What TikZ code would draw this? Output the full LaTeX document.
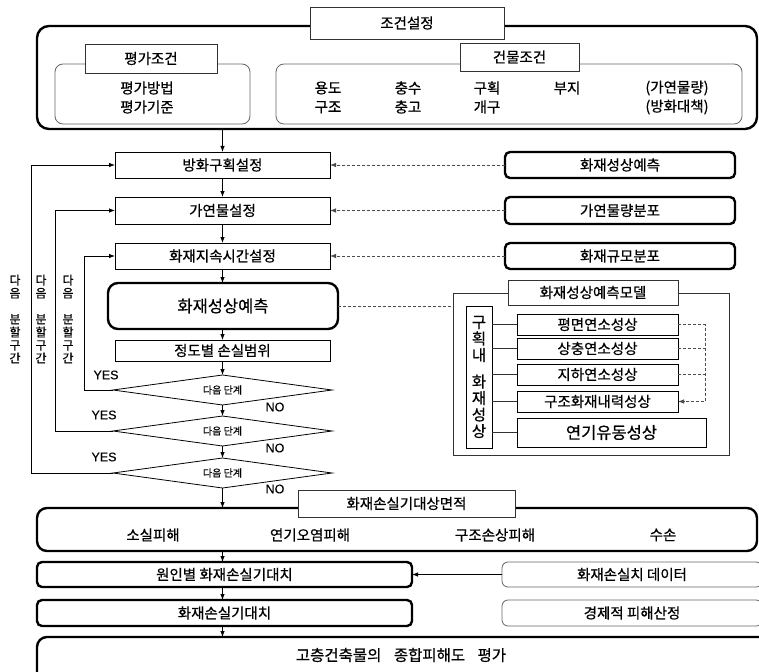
\documentclass[tikz,border=0pt]{standalone}
\usepackage{fontspec}
\setmainfont{Noto Sans CJK KR}[FakeBold=0.6]
\newfontfamily\latinfont{Liberation Sans}[FakeBold=0.3]
\usetikzlibrary{shapes.geometric,arrows.meta,shadows}

\begin{document}
\begin{tikzpicture}[x=1pt,y=-1pt,
  every node/.style={inner sep=0pt, outer sep=0pt, font=\fontsize{14.5}{16}\selectfont},
  plain/.style={draw=black, line width=0.9pt, fill=white, anchor=north west},
  heavy/.style={draw=black, line width=2.4pt, rounded corners=6pt, fill=white, anchor=north west},
  thinround/.style={draw=black!60, line width=0.8pt, rounded corners=8pt, fill=white, anchor=north west},
  tag/.style={draw=black!80, line width=0.8pt, fill=white, anchor=north west,
    drop shadow={shadow xshift=1.3pt, shadow yshift=-1.3pt, fill=black!35, opacity=1}},
  arr/.style={line width=0.8pt, -{Latex[length=6pt,width=4.5pt]}},
  darr/.style={line width=0.8pt, dash pattern=on 3pt off 2pt, draw=black!70, -{Latex[length=6pt,width=4.5pt]}},
  dline/.style={line width=0.8pt, dash pattern=on 3pt off 2pt, draw=black!70},
  dec/.style={draw=black, line width=0.8pt, shape=diamond, shape aspect=7, minimum width=219pt, minimum height=30pt, font=\fontsize{10}{12}\selectfont},
  yn/.style={font=\latinfont\fontsize{12.5}{14}\selectfont},
  vlab/.style={align=center, font=\fontsize{12}{13}\selectfont},
  two/.style={align=center, font=\fontsize{14.5}{19}\selectfont},
]
\useasboundingbox (0,0) rectangle (759,671);
\clip (0,0) rectangle (759,671);

% ---------- top condition block ----------
\node[heavy, rounded corners=12pt, minimum width=720pt, minimum height=103pt] (cond) at (37,26) {};
\node[thinround, minimum width=195pt, minimum height=60pt] (evalbox) at (55,64) {};
\node[thinround, minimum width=466pt, minimum height=60pt] (bldbox) at (276,64) {};
\node[tag, minimum width=194pt, minimum height=32pt] (condtag) at (310,7) {조건설정};
\node[tag, minimum width=132pt, minimum height=29pt] (evaltag) at (85,44) {평가조건};
\node[tag, minimum width=119pt, minimum height=28pt] (bldtag) at (460,43) {건물조건};
\node[two] (e1) at (147,97.5) {평가방법\\평가기준};
\node[two] (b1) at (328,97.5) {용도\\구조};
\node[two] (b2) at (408,97.5) {충수\\충고};
\node[two] (b3) at (487,97.5) {구획\\개구};
\node (b4) at (567,88) {부지};
\node[two] (b5) at (677,97.5) {(가연물량)\\(방화대책)};

% ---------- main flow ----------
\node[plain, minimum width=215pt, minimum height=26pt] (n1) at (115,152) {방화구획설정};
\node[plain, minimum width=215pt, minimum height=27pt] (n2) at (115,197) {가연물설정};
\node[plain, minimum width=215pt, minimum height=26pt] (n3) at (115,243) {화재지속시간설정};
\node[heavy, rounded corners=10pt, minimum width=230pt, minimum height=46pt, font=\fontsize{16.5}{18}\selectfont] (pred) at (108,283) {화재성상예측};
\node[plain, minimum width=215pt, minimum height=21pt] (loss) at (115,340) {정도별 손실범위};
\node[dec] (d1) at (222.5,390) {다음 단계};
\node[dec] (d2) at (222.5,431) {다음 단계};
\node[dec] (d3) at (222.5,473) {다음 단계};

\node[yn] (y1) at (106,375) {YES};
\node[yn] (no1) at (275,407) {NO};
\node[yn] (y2) at (104,415) {YES};
\node[yn] (no2) at (275,448) {NO};
\node[yn] (y3) at (104,457) {YES};
\node[yn] (no3) at (275,489) {NO};

\node[vlab] (v1) at (15,319) {다\\음\\[13pt]분\\할\\구\\간};
\node[vlab] (v2) at (41,319) {다\\음\\[13pt]분\\할\\구\\간};
\node[vlab] (v3) at (68,319) {다\\음\\[13pt]분\\할\\구\\간};

% ---------- right inputs ----------
\node[heavy, rounded corners=5pt, minimum width=230pt, minimum height=26pt] (r1) at (505,152) {화재성상예측};
\node[heavy, rounded corners=5pt, minimum width=230pt, minimum height=27pt] (r2) at (505,197) {가연물량분포};
\node[heavy, rounded corners=5pt, minimum width=230pt, minimum height=26pt] (r3) at (505,243) {화재규모분포};

% ---------- model ----------
\node[tag, minimum width=276pt, minimum height=162pt] (model) at (453,293) {};
\node[tag, minimum width=170pt, minimum height=25pt] (mtitle) at (508,280) {화재성상예측모델};
\node[plain, line width=0.8pt, minimum width=26pt, minimum height=142pt] (vb) at (466,306) {};
\node[align=center, font=\fontsize{15.5}{16.5}\selectfont] (vbt) at (479,377) {구\\획\\내\\[10pt]화\\재\\성\\상};
\node[plain, minimum width=161pt, minimum height=21pt] (m1) at (517,314) {평면연소성상};
\node[plain, minimum width=161pt, minimum height=21pt] (m2) at (517,338) {상충연소성상};
\node[plain, minimum width=161pt, minimum height=21pt] (m3) at (517,364) {지하연소성상};
\node[plain, minimum width=161pt, minimum height=21pt] (m4) at (517,391) {구조화재내력성상};
\node[plain, minimum width=189pt, minimum height=29pt, font=\fontsize{16.5}{18}\selectfont] (m5) at (517,418) {연기유동성상};

% ---------- bottom ----------
\node[heavy, rounded corners=10pt, minimum width=720pt, minimum height=43pt] (big) at (37,508) {};
\node[tag, minimum width=217pt, minimum height=27pt] (areatag) at (298,490) {화재손실기대상면적};
\node (s1) at (153,535) {소실피해};
\node (s2) at (310,535) {연기오염피해};
\node (s3) at (495,535) {구조손상피해};
\node (s4) at (663,535) {수손};
\node[heavy, rounded corners=5pt, minimum width=375pt, minimum height=25pt] (cause) at (37,562) {원인별 화재손실기대치};
\node[heavy, rounded corners=5pt, minimum width=375pt, minimum height=26pt] (expv) at (37,600) {화재손실기대치};
\node[thinround, rounded corners=6pt, minimum width=260pt, minimum height=25pt] (data) at (502,562) {화재손실치 데이터};
\node[thinround, rounded corners=6pt, minimum width=260pt, minimum height=26pt] (econ) at (502,600) {경제적 피해산정};
\node[heavy, rounded corners=10pt, minimum width=760pt, minimum height=60pt] (final) at (37,637) {};
\node[font=\fontsize{15.5}{17}\selectfont] (ft) at (401,655) {고층건축물의\hspace{0.8em}종합피해도\hspace{0.8em}평가};

% ---------- connectors ----------
\draw[arr] (n1.north |- cond.south) -- (n1.north);
\draw[arr] (n1.south) -- (n2.north);
\draw[arr] (n2.south) -- (n3.north);
\draw[arr] (n3.south) -- (n3.south |- pred.north);
\draw[arr] (n3.south |- pred.south) -- (loss.north);
\draw[arr] (loss.south) -- (d1.north);
\draw[arr] (d1.south) -- (d2.north);
\draw[arr] (d2.south) -- (d3.north);
\draw[arr] (d3.south) -- (d3.south |- big.north);
\draw[arr] (d3.south |- big.south) -- (d3.south |- cause.north);
\draw[arr] (d3.south |- cause.south) -- (d3.south |- expv.north);
\draw[arr] (d3.south |- expv.south) -- (d3.south |- final.north);

\coordinate (c1) at (84,0);
\coordinate (c2) at (55,0);
\coordinate (c3) at (31,0);
\draw[arr] (d1.west) -- (d1.west -| c1) |- (n3.west);
\draw[arr] (d2.west) -- (d2.west -| c2) |- (n2.west);
\draw[arr] (d3.west) -- (d3.west -| c3) |- (n1.west);

\draw[darr] (r1.west) -- (n1.east);
\draw[darr] (r2.west) -- (n2.east);
\draw[darr] (r3.west) -- (n3.east);
\draw[dline] (pred.east) -- (pred.east -| model.west);

\draw[line width=0.8pt, black!80] (vb.east |- m1.west) -- (m1.west);
\draw[line width=0.8pt, black!80] (vb.east |- m2.west) -- (m2.west);
\draw[line width=0.8pt, black!80] (vb.east |- m3.west) -- (m3.west);
\draw[line width=0.8pt, black!80] (vb.east |- m4.west) -- (m4.west);
\draw[line width=0.8pt, black!80] (vb.east |- m5.west) -- (m5.west);

\coordinate (dx) at (705,0);
\draw[darr] (m1.east) -- (m1.east -| dx) |- (m4.east);
\draw[dline] (m2.east) -- (m2.east -| dx);
\draw[dline] (m3.east) -- (m3.east -| dx);

\draw[arr] (data.west) -- (cause.east);
\end{tikzpicture}
\end{document}
